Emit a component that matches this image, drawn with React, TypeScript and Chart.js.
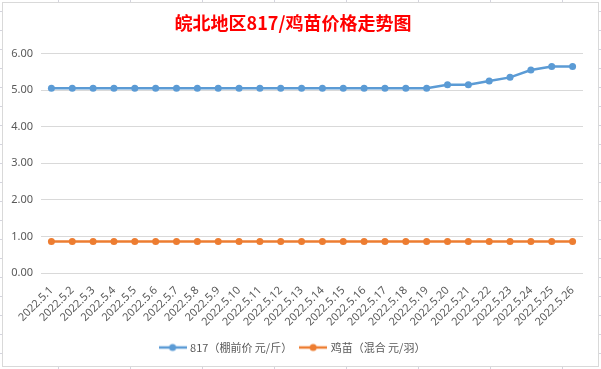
import React, { useEffect, useRef } from 'react';
import { Chart, registerables } from 'chart.js';

Chart.register(...registerables);

const categories = [
  '2022.5.1', '2022.5.2', '2022.5.3', '2022.5.4', '2022.5.5', '2022.5.6', '2022.5.7',
  '2022.5.8', '2022.5.9', '2022.5.10', '2022.5.11', '2022.5.12', '2022.5.13', '2022.5.14',
  '2022.5.15', '2022.5.16', '2022.5.17', '2022.5.18', '2022.5.19', '2022.5.20', '2022.5.21',
  '2022.5.22', '2022.5.23', '2022.5.24', '2022.5.25', '2022.5.26',
];

const price817 = [
  5.05, 5.05, 5.05, 5.05, 5.05, 5.05, 5.05, 5.05, 5.05, 5.05, 5.05, 5.05, 5.05,
  5.05, 5.05, 5.05, 5.05, 5.05, 5.05, 5.15, 5.15, 5.25, 5.35, 5.55, 5.65, 5.65,
];

const chickPrice = [
  0.86, 0.86, 0.86, 0.86, 0.86, 0.86, 0.86, 0.86, 0.86, 0.86, 0.86, 0.86, 0.86,
  0.86, 0.86, 0.86, 0.86, 0.86, 0.86, 0.86, 0.86, 0.86, 0.86, 0.86, 0.86, 0.86,
];

const seriesNames = ['817（棚前价 元/斤）', '鸡苗（混合 元/羽）'];
const titleText = '皖北地区817/鸡苗价格走势图';
const yMin = 0;
const yMax = 6;
const yStep = 1;

const BLUE = '#5B9BD5';
const ORANGE = '#ED7D31';

function makeMarker(color: string): HTMLCanvasElement {
  const c = document.createElement('canvas');
  c.width = 28;
  c.height = 10;
  const ctx = c.getContext('2d')!;
  ctx.strokeStyle = color;
  ctx.lineWidth = 2.5;
  ctx.beginPath();
  ctx.moveTo(0, 5);
  ctx.lineTo(28, 5);
  ctx.stroke();
  ctx.fillStyle = color;
  ctx.beginPath();
  ctx.arc(14, 5, 3.5, 0, Math.PI * 2);
  ctx.fill();
  return c;
}

export default function App() {
  const ref = useRef<HTMLCanvasElement>(null);

  useEffect(() => {
    document.body.style.margin = '0';
    const markers = [makeMarker(BLUE), makeMarker(ORANGE)];
    const chart = new Chart(ref.current!, {
      type: 'line',
      data: {
        labels: categories,
        datasets: [
          {
            label: seriesNames[0],
            data: price817,
            borderColor: BLUE,
            backgroundColor: BLUE,
            borderWidth: 2.5,
            pointRadius: 3.5,
            pointHoverRadius: 3.5,
            pointBorderWidth: 0,
            tension: 0,
          },
          {
            label: seriesNames[1],
            data: chickPrice,
            borderColor: ORANGE,
            backgroundColor: ORANGE,
            borderWidth: 2.5,
            pointRadius: 3.5,
            pointHoverRadius: 3.5,
            pointBorderWidth: 0,
            tension: 0,
          },
        ],
      },
      options: {
        responsive: false,
        animation: false,
        layout: { padding: { left: 0, right: 15, top: 0, bottom: 3 } },
        plugins: {
          title: {
            display: true,
            text: titleText,
            color: '#FF0000',
            font: { family: "'Noto Sans CJK SC'", size: 18, weight: 'bold' },
            padding: { top: 9, bottom: 20 },
          },
          legend: {
            position: 'bottom',
            labels: {
              usePointStyle: true,
              pointStyleWidth: 24,
              boxHeight: 10,
              padding: 9,
              color: '#595959',
              font: { family: "'Noto Sans CJK SC'", size: 11 },
              generateLabels: (ch: any) => {
                const items = Chart.defaults.plugins.legend.labels.generateLabels(ch);
                items.forEach((it: any, i: number) => {
                  it.pointStyle = markers[i];
                });
                return items;
              },
            },
          },
          tooltip: { enabled: false },
        },
        scales: {
          x: {
            offset: true,
            grid: { display: false },
            border: { display: false },
            ticks: {
              minRotation: 45,
              maxRotation: 45,
              autoSkip: false,
              color: '#595959',
              font: { family: "'Noto Sans'", size: 11 },
              padding: 3,
            },
            afterFit: (s: any) => {
              s.height = 60;
            },
          },
          y: {
            min: yMin,
            max: yMax,
            grid: { color: '#D9D9D9', drawTicks: false, lineWidth: 1 },
            border: { display: false },
            ticks: {
              stepSize: yStep,
              color: '#595959',
              padding: 8,
              font: { family: "'Noto Sans'", size: 11 },
              callback: (v: any) => Number(v).toFixed(2),
            },
            afterFit: (s: any) => {
              s.width = 38;
            },
          },
        },
      },
    });
    return () => chart.destroy();
  }, []);

  const cols: number[] = [];
  for (let x = 58; x < 601; x += 72) cols.push(x);
  const rows: number[] = [];
  for (let y = 11; y < 369; y += 19) rows.push(y);

  return (
    <div style={{ position: 'absolute', left: 0, top: 0, width: 601, height: 369, background: '#fff', overflow: 'hidden' }}>
      {cols.map((x) => (
        <div key={'c' + x} style={{ position: 'absolute', left: x, top: 0, width: 1, height: 369, background: '#D4D4DE' }} />
      ))}
      {rows.map((y) => (
        <div key={'r' + y} style={{ position: 'absolute', left: 0, top: y, width: 601, height: 1, background: '#D4D4DE' }} />
      ))}
      <div
        style={{
          position: 'absolute',
          left: 2,
          top: 2,
          width: 597,
          height: 365,
          boxSizing: 'border-box',
          border: '1px solid #D9D9D9',
          background: '#fff',
        }}
      >
        <canvas ref={ref} width={595} height={363} style={{ display: 'block' }} />
      </div>
    </div>
  );
}
